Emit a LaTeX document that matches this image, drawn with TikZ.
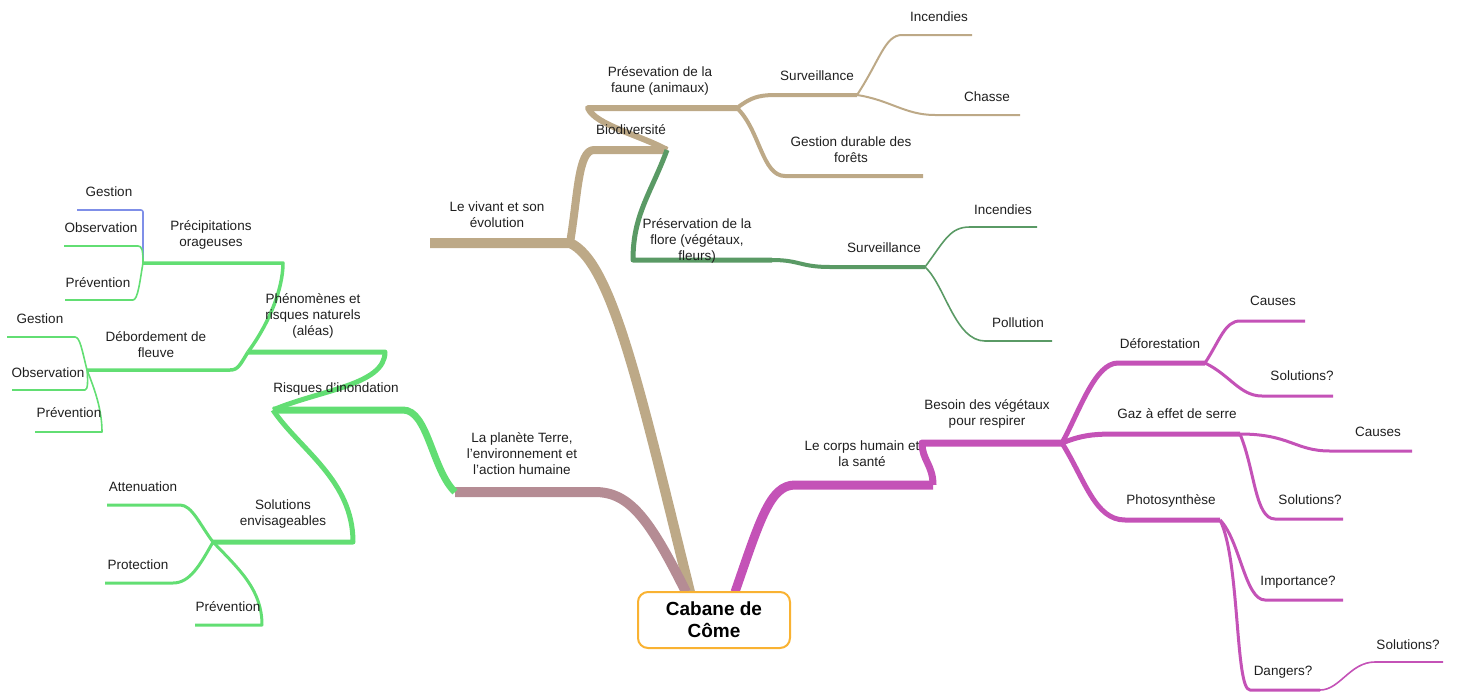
\documentclass[tikz,border=0pt]{standalone}
\usepackage{fontspec}
\setmainfont{Liberation Sans}
\definecolor{cTan}{HTML}{BDA987}
\definecolor{cMauve}{HTML}{B58C94}
\definecolor{cGreen}{HTML}{62DE73}
\definecolor{cDGreen}{HTML}{5A9A65}
\definecolor{cMag}{HTML}{C452B7}
\definecolor{cBlue}{HTML}{7F8FE8}
\definecolor{cOrange}{HTML}{F9B232}
\begin{document}
\begin{tikzpicture}[x=1pt,y=-1pt,
  lbl/.style={font=\fontsize{13.5}{16}\selectfont, align=center, inner sep=0pt, text=black!88},
  br/.style={line cap=butt, line join=round},
  rootbox/.style={draw=cOrange, line width=2pt, rounded corners=10pt, fill=white, minimum width=152pt, minimum height=56pt, align=center, font=\fontsize{19}{22}\selectfont\bfseries}]
\useasboundingbox (0,0) rectangle (1458,691);

% ---------- junction coordinates ----------
\coordinate (cT) at (690,592);
\coordinate (cM) at (686,592);
\coordinate (cP) at (735,592);
\coordinate (vivR) at (570,243);
\coordinate (vivL) at (430,243);
\coordinate (bioL) at (594,150);
\coordinate (bioR) at (667,150);
\coordinate (fauL) at (588,108);
\coordinate (fauR) at (737,108);
\coordinate (fsurvL) at (775,95);
\coordinate (fsurvR) at (857,95);
\coordinate (gdurL) at (785,176);
\coordinate (gdurR) at (923,176);
\coordinate (finc1L) at (902,35);
\coordinate (finc1R) at (972,35);
\coordinate (chasL) at (935,115);
\coordinate (chasR) at (1020,115);
\coordinate (florL) at (633,260);
\coordinate (florR) at (772,260);
\coordinate (vsurvL) at (830,267);
\coordinate (vsurvR) at (925,267);
\coordinate (vincL) at (970,227);
\coordinate (vincR) at (1037,227);
\coordinate (polL) at (985,341);
\coordinate (polR) at (1052,341);
\coordinate (terR) at (595,492);
\coordinate (terL) at (455,492);
\coordinate (risR) at (403,410);
\coordinate (risL) at (273,410);
\coordinate (pheR) at (385,352);
\coordinate (pheL) at (248,352);
\coordinate (solR) at (353,542);
\coordinate (solL) at (213,542);
\coordinate (preR) at (283,263);
\coordinate (preL) at (143,263);
\coordinate (debR) at (230,370);
\coordinate (debL) at (87,370);
\coordinate (ges1R) at (143,210);
\coordinate (ges1L) at (77,210);
\coordinate (obs1R) at (138,246);
\coordinate (obs1L) at (64,246);
\coordinate (prv1R) at (133,300);
\coordinate (prv1L) at (65,300);
\coordinate (ges2R) at (75,337);
\coordinate (ges2L) at (7,337);
\coordinate (obs2R) at (85,390);
\coordinate (obs2L) at (12,390);
\coordinate (prv2R) at (102,432);
\coordinate (prv2L) at (35,432);
\coordinate (attR) at (180,505);
\coordinate (attL) at (107,505);
\coordinate (proR) at (173,583);
\coordinate (proL) at (105,583);
\coordinate (prv3R) at (262,625);
\coordinate (prv3L) at (195,625);
\coordinate (corL) at (795,485);
\coordinate (corR) at (933,485);
\coordinate (besL) at (922,443);
\coordinate (besR) at (1062,443);
\coordinate (defL) at (1118,363);
\coordinate (defR) at (1205,363);
\coordinate (gazL) at (1115,434);
\coordinate (gazR) at (1240,434);
\coordinate (phoL) at (1125,520);
\coordinate (phoR) at (1220,520);
\coordinate (dcauL) at (1240,321);
\coordinate (dcauR) at (1305,321);
\coordinate (dsolL) at (1262,396);
\coordinate (dsolR) at (1333,396);
\coordinate (gcauL) at (1330,451);
\coordinate (gcauR) at (1412,451);
\coordinate (gsolL) at (1275,519);
\coordinate (gsolR) at (1343,519);
\coordinate (impL) at (1265,600);
\coordinate (impR) at (1343,600);
\coordinate (danL) at (1250,690);
\coordinate (danR) at (1320,690);
\coordinate (dasL) at (1375,662);
\coordinate (dasR) at (1443,662);

% ---------- tan branch ----------
\draw[br, cTan, line width=10pt] (cT) .. controls (640,390) and (612,262) .. (vivR) -- (vivL);
\draw[br, cTan, line width=8pt] (vivR) .. controls (578,195) and (578,150) .. (bioL) -- (bioR);
\draw[br, cTan, line width=6pt] (bioR) .. controls (640,135) and (595,125) .. (fauL) -- (fauR);
\draw[br, cTan, line width=4pt] (fauR) .. controls (750,98) and (758,95) .. (fsurvL) -- (fsurvR);
\draw[br, cTan, line width=4pt] (fauR) .. controls (760,130) and (762,176) .. (gdurL) -- (gdurR);
\draw[br, cTan, line width=2pt] (fsurvR) .. controls (880,60) and (885,35) .. (finc1L) -- (finc1R);
\draw[br, cTan, line width=2pt] (fsurvR) .. controls (890,100) and (905,115) .. (chasL) -- (chasR);
% ---------- dark green ----------
\draw[br, cDGreen, line width=5pt] (bioR) .. controls (650,195) and (633,215) .. (florL) -- (florR);
\draw[br, cDGreen, line width=4pt] (florR) .. controls (800,260) and (800,267) .. (vsurvL) -- (vsurvR);
\draw[br, cDGreen, line width=1.6pt] (vsurvR) .. controls (945,240) and (950,227) .. (vincL) -- (vincR);
\draw[br, cDGreen, line width=1.6pt] (vsurvR) .. controls (945,285) and (955,341) .. (polL) -- (polR);
% ---------- mauve ----------
\draw[br, cMauve, line width=10pt] (cM) .. controls (650,520) and (630,492) .. (terR) -- (terL);
% ---------- green ----------
\draw[br, cGreen, line width=7pt] (terL) .. controls (432,470) and (428,410) .. (risR) -- (risL);
\draw[br, cGreen, line width=5pt] (risL) .. controls (320,390) and (385,385) .. (pheR) -- (pheL);
\draw[br, cGreen, line width=5pt] (risL) .. controls (300,450) and (353,480) .. (solR) -- (solL);
\draw[br, cGreen, line width=3.5pt] (pheL) .. controls (268,325) and (283,290) .. (preR) -- (preL);
\draw[br, cGreen, line width=3.5pt] (pheL) .. controls (240,365) and (238,370) .. (debR) -- (debL);
\draw[br, cBlue, line width=1.6pt, rounded corners=2pt] (preL) -- (ges1R) -- (ges1L);
\draw[br, cGreen, line width=1.6pt] (preL) .. controls (143,250) and (142,246) .. (obs1R) -- (obs1L);
\draw[br, cGreen, line width=1.6pt] (preL) .. controls (140,280) and (138,300) .. (prv1R) -- (prv1L);
\draw[br, cGreen, line width=1.6pt] (debL) .. controls (82,350) and (80,337) .. (ges2R) -- (ges2L);
\draw[br, cGreen, line width=1.6pt] (debL) .. controls (88,380) and (88,390) .. (obs2R) -- (obs2L);
\draw[br, cGreen, line width=1.6pt] (debL) .. controls (95,390) and (102,410) .. (prv2R) -- (prv2L);
\draw[br, cGreen, line width=3pt] (solL) .. controls (200,525) and (192,505) .. (attR) -- (attL);
\draw[br, cGreen, line width=3pt] (solL) .. controls (200,565) and (190,583) .. (proR) -- (proL);
\draw[br, cGreen, line width=3pt] (solL) .. controls (240,570) and (262,590) .. (prv3R) -- (prv3L);
% ---------- magenta ----------
\draw[br, cMag, line width=9pt] (cP) .. controls (760,520) and (770,485) .. (corL) -- (corR);
\draw[br, cMag, line width=7pt] (corR) .. controls (933,465) and (922,460) .. (besL) -- (besR);
\draw[br, cMag, line width=5pt] (besR) .. controls (1080,410) and (1095,363) .. (defL) -- (defR);
\draw[br, cMag, line width=5pt] (besR) .. controls (1080,436) and (1090,434) .. (gazL) -- (gazR);
\draw[br, cMag, line width=5pt] (besR) .. controls (1085,480) and (1095,520) .. (phoL) -- (phoR);
\draw[br, cMag, line width=3pt] (defR) .. controls (1220,340) and (1225,321) .. (dcauL) -- (dcauR);
\draw[br, cMag, line width=3pt] (defR) .. controls (1230,375) and (1240,396) .. (dsolL) -- (dsolR);
\draw[br, cMag, line width=3pt] (gazR) .. controls (1290,434) and (1295,451) .. (gcauL) -- (gcauR);
\draw[br, cMag, line width=3pt] (gazR) .. controls (1255,470) and (1255,519) .. (gsolL) -- (gsolR);
\draw[br, cMag, line width=3pt] (phoR) .. controls (1240,540) and (1245,600) .. (impL) -- (impR);
\draw[br, cMag, line width=3pt] (phoR) .. controls (1240,560) and (1235,690) .. (danL) -- (danR);
\draw[br, cMag, line width=1.6pt] (danR) .. controls (1340,690) and (1350,662) .. (dasL) -- (dasR);

% ---------- root ----------
\node[rootbox] (root) at (714,620) {Cabane de\\Côme};

% ---------- labels ----------
\node[lbl] (tViv) at (497,215) {Le vivant et son\\évolution};
\node[lbl] (tBio) at (631,130) {Biodiversité};
\node[lbl] (tFau) at (660,81) {Présevation de la\\faune (animaux)};
\node[lbl] (tFsurv) at (817,76) {Surveillance};
\node[lbl] (tFinc) at (939,17) {Incendies};
\node[lbl] (tChas) at (987,97) {Chasse};
\node[lbl] (tGdur) at (851,150) {Gestion durable des\\forêts};
\node[lbl] (tFlor) at (697,241) {Préservation de la\\flore (végétaux,\\fleurs)};
\node[lbl] (tVsurv) at (884,248) {Surveillance};
\node[lbl] (tVinc) at (1003,210) {Incendies};
\node[lbl] (tPol) at (1018,323) {Pollution};
\node[lbl] (tTer) at (522,454) {La planète Terre,\\l'environnement et\\l'action humaine};
\node[lbl] (tRis) at (336,389) {Risques d'inondation};
\node[lbl] (tPhe) at (313,316) {Phénomènes et\\risques naturels\\(aléas)};
\node[lbl] (tPre) at (211,235) {Précipitations\\orageuses};
\node[lbl] (tGes1) at (109,192) {Gestion};
\node[lbl] (tObs1) at (101,228) {Observation};
\node[lbl] (tPrv1) at (98,283) {Prévention};
\node[lbl] (tDeb) at (156,345) {Débordement de\\fleuve};
\node[lbl] (tGes2) at (40,319) {Gestion};
\node[lbl] (tObs2) at (48,373) {Observation};
\node[lbl] (tPrv2) at (69,413) {Prévention};
\node[lbl] (tSol) at (283,514) {Solutions\\envisageables};
\node[lbl] (tAtt) at (143,487) {Attenuation};
\node[lbl] (tPro) at (138,565) {Protection};
\node[lbl] (tPrv3) at (228,607) {Prévention};
\node[lbl] (tCor) at (862,454) {Le corps humain et\\la santé};
\node[lbl] (tBes) at (987,414) {Besoin des végétaux\\pour respirer};
\node[lbl] (tDef) at (1160,344) {Déforestation};
\node[lbl] (tDcau) at (1273,301) {Causes};
\node[lbl] (tDsol) at (1302,376) {Solutions?};
\node[lbl] (tGaz) at (1177,414) {Gaz à effet de serre};
\node[lbl] (tGcau) at (1378,432) {Causes};
\node[lbl] (tGsol) at (1310,500) {Solutions?};
\node[lbl] (tPho) at (1171,501) {Photosynthèse};
\node[lbl] (tImp) at (1298,582) {Importance?};
\node[lbl] (tDan) at (1283,672) {Dangers?};
\node[lbl] (tDas) at (1408,645) {Solutions?};
\end{tikzpicture}
\end{document}
